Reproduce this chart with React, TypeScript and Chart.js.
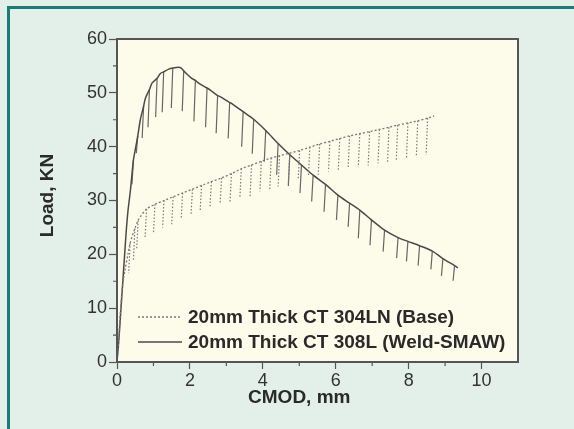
import React, { useEffect, useRef } from "react";
import { Chart, registerables } from "chart.js";

Chart.register(...registerables);

// ---- data ----
const seriesLabels = ["20mm Thick CT 304LN (Base)", "20mm Thick CT 308L (Weld-SMAW)"];
const xTickLabels = [0, 2, 4, 6, 8, 10];
const yTickLabels = [0, 10, 20, 30, 40, 50, 60];
const axisTitles = { x: "CMOD, mm", y: "Load, KN" };

// Base (304LN) load curve
const baseX = [0, 0.05, 0.1, 0.15, 0.22, 0.3, 0.36, 0.49, 0.58, 0.63, 0.81, 1.04, 1.29, 1.54, 1.8, 2.07, 2.32, 2.59, 2.87, 3.14, 3.41, 3.69, 3.96, 4.23, 4.46, 4.74, 5.01, 5.29, 5.56, 5.84, 6.11, 6.38, 6.66, 6.93, 7.2, 7.46, 7.7, 7.98, 8.25, 8.52, 8.7];
const baseY = [0, 5, 10, 14, 17.1, 20, 22.1, 24.8, 26.3, 26.9, 28.4, 29.3, 30.0, 30.7, 31.4, 32.1, 32.8, 33.5, 34.2, 35.0, 35.9, 36.6, 37.3, 37.9, 38.3, 38.8, 39.3, 39.9, 40.5, 41.0, 41.5, 42.0, 42.4, 42.8, 43.2, 43.6, 44.0, 44.4, 44.8, 45.3, 45.7];
// Base unloading lines
const baseDropX = [0.36, 0.49, 0.58, 0.81, 1.04, 1.29, 1.54, 1.8, 2.07, 2.32, 2.59, 2.87, 3.14, 3.41, 3.69, 3.96, 4.23, 4.46, 4.74, 5.01, 5.29, 5.56, 5.84, 6.11, 6.38, 6.66, 6.93, 7.2, 7.46, 7.7, 7.98, 8.25, 8.52];
const baseDropTop = [22.1, 24.8, 26.3, 28.4, 29.3, 30.0, 30.7, 31.4, 32.1, 32.8, 33.5, 34.2, 35.0, 35.9, 36.6, 37.3, 37.9, 38.3, 38.8, 39.3, 39.9, 40.5, 41.0, 41.5, 42.0, 42.4, 42.8, 43.2, 43.6, 44.0, 44.4, 44.8, 45.3];
const baseDropBottom = [16.5, 18.7, 21.1, 23.0, 23.9, 25.0, 25.6, 26.5, 27.3, 27.9, 28.8, 29.5, 29.8, 30.4, 30.7, 31.7, 31.9, 32.6, 33.2, 33.8, 34.5, 34.8, 35.4, 35.7, 36.0, 36.2, 36.5, 36.9, 37.0, 37.4, 37.7, 38.1, 38.5];

// Weld (308L) load curve
const weldX = [0, 0.05, 0.1, 0.15, 0.2, 0.25, 0.3, 0.37, 0.45, 0.5, 0.57, 0.64, 0.73, 0.78, 0.89, 0.96, 1.1, 1.19, 1.28, 1.42, 1.53, 1.69, 1.76, 1.83, 1.87, 2.05, 2.15, 2.24, 2.47, 2.56, 2.76, 2.83, 3.09, 3.15, 3.46, 3.75, 4.08, 4.42, 4.74, 5.06, 5.38, 5.72, 6.06, 6.38, 6.66, 6.98, 7.34, 7.71, 7.98, 8.3, 8.65, 8.94, 9.26, 9.35];
const weldY = [0, 4, 9, 14, 19, 24, 28, 32, 37.5, 39.4, 42, 45, 47.5, 49, 50.6, 51.8, 52.7, 53.6, 53.9, 54.4, 54.6, 54.75, 54.6, 54.1, 53.8, 52.7, 52.3, 51.8, 50.9, 50.5, 49.5, 49.3, 48.2, 48.0, 46.5, 45.1, 43.0, 40.6, 38.5, 36.6, 34.7, 33.0, 31.0, 29.5, 28.2, 26.4, 24.5, 23.1, 22.4, 21.6, 20.6, 19.2, 17.9, 17.5];
// Weld unloading lines
const weldDropX = [0.45, 0.57, 0.73, 0.89, 1.1, 1.28, 1.53, 1.83, 2.15, 2.47, 2.76, 3.09, 3.46, 3.75, 4.08, 4.42, 4.74, 5.06, 5.38, 5.72, 6.06, 6.38, 6.66, 6.98, 7.34, 7.71, 7.98, 8.3, 8.65, 8.94, 9.26];
const weldDropTop = [37.5, 42, 47.5, 50.6, 52.7, 53.9, 54.6, 54.1, 52.3, 50.9, 49.5, 48.2, 46.5, 45.1, 43.0, 40.6, 38.5, 36.6, 34.7, 33.0, 31.0, 29.5, 28.2, 26.4, 24.5, 23.1, 22.4, 21.6, 20.6, 19.2, 17.9];
const weldDropBottom = [33, 38.8, 41.6, 43.6, 45.5, 46.4, 47.2, 46.6, 44.7, 43.6, 42.5, 41.5, 40.0, 38.7, 37.2, 34.8, 32.7, 31.4, 29.8, 27.9, 26.4, 25.1, 23.0, 21.7, 20.5, 19.3, 18.7, 17.9, 17.2, 16.0, 15.1];

// ---- styles ----
const FONT = "'Liberation Sans', Arial, Helvetica, sans-serif";
const PAGE_BG = "#e3efe9";
const PLOT_BG = "#fdfbe9";
const FRAME = "#1a7b78";
const AXIS = "#555555";
const TEXT = "#2a2a2a";
const WELD = "#4a4a4a";
const BASE = "#7a7a7a";
const TILT = 0.04;
const TITLE_SIZE = 19;
const TICK_SIZE = 18;

function curve(xs: number[], ys: number[]) {
  return xs.map((x, i) => ({ x, y: ys[i] }));
}
function drops(xs: number[], tops: number[], bottoms: number[]) {
  const out: { x: number; y: number | null }[] = [];
  xs.forEach((x, i) => {
    out.push({ x, y: tops[i] });
    out.push({ x: x - TILT, y: bottoms[i] });
    out.push({ x, y: null });
  });
  return out;
}

const decorPlugin = {
  id: "decor",
  beforeDraw(chart: any) {
    const { ctx, chartArea: a, width, height } = chart;
    ctx.save();
    ctx.fillStyle = PAGE_BG;
    ctx.fillRect(0, 0, width, height);
    ctx.fillStyle = FRAME;
    ctx.fillRect(7, 6, 3, height - 6);
    ctx.fillRect(7, 6, width - 7, 3);
    ctx.fillStyle = PLOT_BG;
    ctx.fillRect(a.left, a.top, a.right - a.left, a.bottom - a.top);
    ctx.restore();
  },
  afterDraw(chart: any) {
    const { ctx, chartArea: a, scales } = chart;
    const xs = scales.x;
    const ys = scales.y;
    ctx.save();
    // frame
    ctx.strokeStyle = AXIS;
    ctx.lineWidth = 2;
    ctx.strokeRect(a.left, a.top, a.right - a.left, a.bottom - a.top);
    // minor ticks
    ctx.lineWidth = 1.2;
    ctx.beginPath();
    for (let v = 1; v <= 9; v += 2) {
      const px = xs.getPixelForValue(v);
      ctx.moveTo(px, a.bottom);
      ctx.lineTo(px, a.bottom + 4);
    }
    for (let v = 5; v <= 55; v += 10) {
      const py = ys.getPixelForValue(v);
      ctx.moveTo(a.left, py);
      ctx.lineTo(a.left - 4, py);
    }
    ctx.stroke();
    // axis titles
    ctx.fillStyle = TEXT;
    ctx.font = `bold ${TITLE_SIZE}px ${FONT}`;
    ctx.textAlign = "center";
    ctx.textBaseline = "middle";
    const cx = (xs.getPixelForValue(0) + xs.getPixelForValue(10)) / 2;
    ctx.fillText(axisTitles.x, cx, 398);
    ctx.save();
    ctx.translate(48, (a.top + a.bottom) / 2 - 5);
    ctx.rotate(-Math.PI / 2);
    ctx.fillText(axisTitles.y, 0, 0);
    ctx.restore();
    // legend
    const lx0 = a.left + 21;
    const lx1 = a.left + 65;
    const tx = a.left + 71;
    const rows = [a.bottom - 45, a.bottom - 20];
    ctx.textAlign = "left";
    ctx.font = `bold ${TITLE_SIZE}px ${FONT}`;
    rows.forEach((ry, i) => {
      ctx.beginPath();
      ctx.strokeStyle = i === 0 ? BASE : WELD;
      ctx.lineWidth = 1.3;
      ctx.setLineDash(i === 0 ? [2, 2] : []);
      ctx.moveTo(lx0, ry);
      ctx.lineTo(lx1, ry);
      ctx.stroke();
      ctx.setLineDash([]);
      ctx.fillStyle = TEXT;
      ctx.fillText(seriesLabels[i], tx, ry + 1);
    });
    ctx.restore();
  },
};

export default function App() {
  const ref = useRef<HTMLCanvasElement | null>(null);
  useEffect(() => {
    if (!ref.current) return;
    const chart = new Chart(ref.current, {
      type: "line",
      data: {
        datasets: [
          {
            label: seriesLabels[0],
            data: curve(baseX, baseY),
            borderColor: BASE,
            borderWidth: 1.3,
            borderDash: [2, 2],
            pointRadius: 0,
            tension: 0.3,
            fill: false,
          },
          {
            label: seriesLabels[0] + " unloading",
            data: drops(baseDropX, baseDropTop, baseDropBottom),
            borderColor: BASE,
            borderWidth: 1.2,
            borderDash: [1.5, 1.8],
            pointRadius: 0,
            spanGaps: false,
            fill: false,
          },
          {
            label: seriesLabels[1],
            data: curve(weldX, weldY),
            borderColor: WELD,
            borderWidth: 1.5,
            pointRadius: 0,
            tension: 0.3,
            fill: false,
          },
          {
            label: seriesLabels[1] + " unloading",
            data: drops(weldDropX, weldDropTop, weldDropBottom),
            borderColor: "#666666",
            borderWidth: 1.2,
            pointRadius: 0,
            spanGaps: false,
            fill: false,
          },
        ],
      },
      options: {
        responsive: false,
        animation: false,
        devicePixelRatio: 1,
        layout: { padding: { top: 39, right: 56, left: 0, bottom: 0 } },
        plugins: { legend: { display: false }, tooltip: { enabled: false } },
        scales: {
          x: {
            type: "linear",
            min: 0,
            max: 11,
            afterFit: (s: any) => {
              s.height = 67;
            },
            border: { display: true, color: AXIS, width: 2 },
            grid: {
              drawOnChartArea: false,
              tickLength: 7,
              tickWidth: 1.2,
              tickColor: (c: any) =>
                c.tick && xTickLabels.includes(c.tick.value) ? AXIS : "rgba(0,0,0,0)",
            },
            ticks: {
              stepSize: 1,
              autoSkip: false,
              maxRotation: 0,
              padding: 1,
              color: "#333",
              font: { family: FONT, size: TICK_SIZE },
              callback: (v: any) => (xTickLabels.includes(Number(v)) ? String(v) : ""),
            },
          },
          y: {
            type: "linear",
            min: 0,
            max: 60,
            afterFit: (s: any) => {
              s.width = 117;
            },
            border: { display: true, color: AXIS, width: 2 },
            grid: {
              drawOnChartArea: false,
              tickLength: 8,
              tickWidth: 1.2,
              tickColor: (c: any) =>
                c.tick && yTickLabels.includes(c.tick.value) ? AXIS : "rgba(0,0,0,0)",
            },
            ticks: {
              stepSize: 5,
              autoSkip: false,
              padding: 2,
              color: "#333",
              font: { family: FONT, size: TICK_SIZE },
              callback: (v: any) => (yTickLabels.includes(Number(v)) ? String(v) : ""),
            },
          },
        },
      },
      plugins: [decorPlugin],
    });
    return () => chart.destroy();
  }, []);
  return (
    <div style={{ position: "fixed", left: 0, top: 0, width: 574, height: 429 }}>
      <canvas ref={ref} width={574} height={429} style={{ width: 574, height: 429, display: "block" }} />
    </div>
  );
}
